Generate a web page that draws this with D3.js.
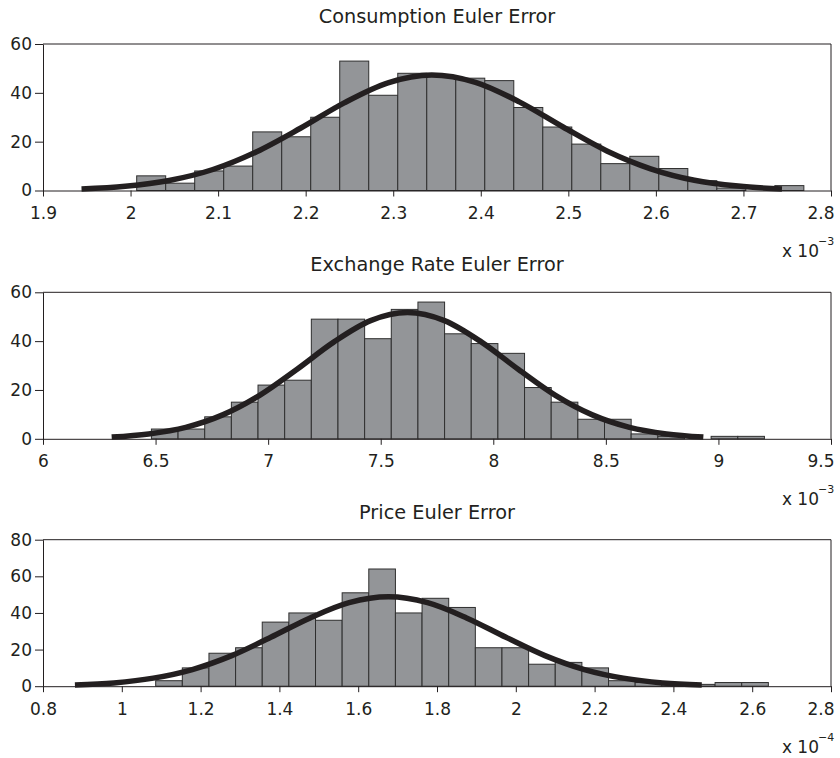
<!DOCTYPE html>
<html>
<head>
<meta charset="utf-8">
<script src="https://cdn.jsdelivr.net/npm/d3@7"></script>
<style>
  body { margin: 0; background: #fff; }
  svg { display: block; }
  text { font-family: "DejaVu Sans", "Liberation Sans", Arial, sans-serif; fill: #231f20; }
  .axis path, .axis line { stroke: #231f20; }
</style>
</head>
<body>
<script>
// --- data (x values in units of the axis multiplier) ---
var titles = ["Consumption Euler Error", "Exchange Rate Euler Error", "Price Euler Error"];
var exponents = ["\u22123", "\u22123", "\u22124"];

// consumption
var consRange = [2.007, 2.769];          // lowest / highest bin edge
var consCounts = [6, 3, 8, 10, 24, 22, 30, 53, 39, 48, 47, 46, 45, 34, 26, 19, 11, 14, 9, 4, 1, 0, 2];
var consFitX = [1.944, 1.994, 2.044, 2.094, 2.144, 2.194, 2.244, 2.294, 2.344, 2.394, 2.444, 2.494, 2.544, 2.594, 2.644, 2.694, 2.744];
var consFitY = [0.6, 1.7, 4.1, 8.6, 15.9, 25.5, 35.9, 44.1, 47.3, 44.3, 36.3, 26.0, 16.2, 8.9, 4.2, 1.8, 0.6];
var consXTicks = [1.9, 2, 2.1, 2.2, 2.3, 2.4, 2.5, 2.6, 2.7, 2.8];
var consYTicks = [0, 20, 40, 60];

// exchange rate
var fxRange = [6.4815, 9.2043];
var fxCounts = [4, 4, 9, 15, 22, 24, 49, 49, 41, 53, 56, 43, 39, 35, 21, 15, 8, 8, 2, 1, 0, 1, 1];
var fxFitX = [6.305, 6.469, 6.634, 6.798, 6.962, 7.127, 7.291, 7.455, 7.619, 7.783, 7.948, 8.112, 8.276, 8.440, 8.605, 8.769, 8.933];
var fxFitY = [0.7, 2.0, 4.7, 9.8, 17.8, 28.4, 39.6, 48.4, 51.7, 48.4, 39.6, 28.4, 17.8, 9.8, 4.7, 2.0, 0.7];
var fxXTicks = [6, 6.5, 7, 7.5, 8, 8.5, 9, 9.5];
var fxYTicks = [0, 20, 40, 60];

// price
var priceRange = [1.086, 2.641];
var priceCounts = [3, 10, 18, 21, 35, 40, 36, 51, 64, 40, 48, 43, 21, 21, 12, 13, 10, 3, 2, 1, 1, 2, 2];
var priceFitX = [0.881, 0.980, 1.080, 1.179, 1.279, 1.378, 1.478, 1.577, 1.677, 1.776, 1.875, 1.975, 2.074, 2.174, 2.273, 2.373, 2.472];
var priceFitY = [0.7, 1.8, 4.4, 9.1, 16.7, 26.7, 37.3, 45.6, 48.8, 45.6, 37.3, 26.7, 16.7, 9.1, 4.4, 1.8, 0.7];
var priceXTicks = [0.8, 1, 1.2, 1.4, 1.6, 1.8, 2, 2.2, 2.4, 2.6, 2.8];
var priceYTicks = [0, 20, 40, 60, 80];

var width = 840;
var height = 758;
var left = 43, right = 831;
var plotH = 146.5;
var tops = [44, 292.3, 539.7];

var svg = d3.select("body")
    .append("svg")
    .attr("width", width)
    .attr("height", height);

var fmt = d3.format("~g");

function drawPanel(i, range, counts, fitX, fitY, xTicks, yTicks) {
    var top = tops[i];
    var x = d3.scaleLinear()
        .domain([xTicks[0], xTicks[xTicks.length - 1]])
        .range([left, right]);
    var y = d3.scaleLinear()
        .domain([0, yTicks[yTicks.length - 1]])
        .range([top + plotH, top]);

    var g = svg.append("g");
    var bw = (range[1] - range[0]) / counts.length;

    // box (top + right)
    g.append("line")
        .attr("x1", left).attr("x2", right)
        .attr("y1", top).attr("y2", top)
        .attr("stroke", "#231f20").attr("stroke-width", 1);
    g.append("line")
        .attr("x1", right).attr("x2", right)
        .attr("y1", top).attr("y2", top + plotH)
        .attr("stroke", "#231f20").attr("stroke-width", 1);

    // bars
    g.selectAll("rect.bar")
        .data(counts)
        .enter()
        .append("rect")
        .attr("class", "bar")
        .attr("x", function(d, j) { return x(range[0] + j * bw); })
        .attr("width", function(d, j) { return x(range[0] + (j + 1) * bw) - x(range[0] + j * bw); })
        .attr("y", function(d) { return y(d); })
        .attr("height", function(d) { return y(0) - y(d); })
        .attr("fill", "#939598")
        .attr("stroke", "#2f2f2f")
        .attr("stroke-width", 1);

    // axes
    g.append("g")
        .attr("class", "axis")
        .attr("transform", "translate(0," + y(0) + ")")
        .call(d3.axisBottom(x).tickValues(xTicks).tickFormat(fmt).tickSize(6).tickSizeOuter(0).tickPadding(10.5))
        .call(function(a) {
            a.selectAll("text").attr("font-size", "17px");
            a.select(".domain").attr("stroke-width", 1);
            // last label kept inside the picture
            a.selectAll(".tick").filter(function(d, j) { return j == xTicks.length - 1; })
                .select("text").attr("text-anchor", "end").attr("x", 3);
        });

    g.append("g")
        .attr("class", "axis")
        .attr("transform", "translate(" + left + ",0)")
        .call(d3.axisLeft(y).tickValues(yTicks).tickFormat(fmt).tickSize(8).tickSizeOuter(0).tickPadding(3))
        .call(function(a) {
            a.selectAll("text").attr("font-size", "17px");
        });

    // fitted normal curve
    var pts = fitX.map(function(v, j) { return [v, fitY[j]]; });
    var line = d3.line()
        .x(function(d) { return x(d[0]); })
        .y(function(d) { return y(d[1]); })
        .curve(d3.curveMonotoneX);
    g.append("path")
        .datum(pts)
        .attr("d", line)
        .attr("fill", "none")
        .attr("stroke", "#231f20")
        .attr("stroke-width", 5.5)
        .attr("stroke-linecap", "butt");

    // title
    g.append("text")
        .attr("x", (left + right) / 2)
        .attr("y", top - 21)
        .attr("text-anchor", "middle")
        .attr("font-size", "19.3px")
        .text(titles[i]);

    // multiplier label
    g.append("text")
        .attr("x", 819)
        .attr("y", y(0) + 66.3)
        .attr("text-anchor", "end")
        .attr("font-size", "17px")
        .text("x 10");
    g.append("text")
        .attr("x", 818)
        .attr("y", y(0) + 54.3)
        .attr("font-size", "11px")
        .text(exponents[i]);
}

drawPanel(0, consRange, consCounts, consFitX, consFitY, consXTicks, consYTicks);
drawPanel(1, fxRange, fxCounts, fxFitX, fxFitY, fxXTicks, fxYTicks);
drawPanel(2, priceRange, priceCounts, priceFitX, priceFitY, priceXTicks, priceYTicks);
</script>
</body>
</html>
